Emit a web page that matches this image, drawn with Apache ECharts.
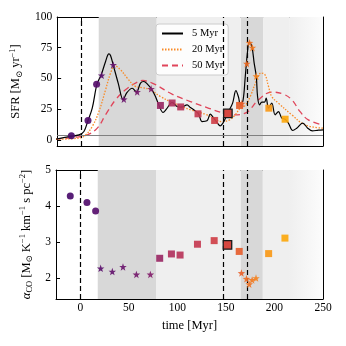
<!DOCTYPE html>
<html>
<head>
<meta charset="utf-8">
<script src="https://cdn.jsdelivr.net/npm/echarts@6/dist/echarts.min.js"></script>
<style>
  html, body { margin: 0; padding: 0; background: #fff; }
  #chart { width: 346px; height: 346px; }
</style>
</head>
<body>
<div id="chart"></div>
<script>
// SFR history (top) and alpha_CO per snapshot (bottom)

// --- data -----------------------------------------------------------------
const t5   = [-26, -12.7, -2.4, 2.7, 6.9, 11.3, 16.2, 20.6, 25.1, 28.5, 30.3, 33, 38.2, 43.3, 46.8, 52.6, 57.1, 61.2, 64.6, 68.1, 72.6, 76.7, 80.1, 84.6, 88, 93.9, 99, 103.5, 109.4, 112.8, 117.3, 121.4, 124.8, 130, 133.4, 136.2, 139.6, 143.7, 146.5, 150, 152.3, 156.5, 159.9, 162.7, 164.4, 167.2, 169.6, 171.6, 173.7, 176.4, 178.8, 181, 182.3, 184.3, 186.8, 189.5, 191.2, 193.6, 197, 200.5, 203.9, 207.4, 210.8, 214.2, 218.7, 222.8, 229, 234.2, 239, 245.2, 250];
const sfr5 = [0.6, 2.7, 4, 6.8, 15.7, 25.8, 45.4, 53, 63.8, 70, 68.5, 60.9, 46, 32.6, 38, 42, 38.9, 46.2, 47.5, 45.6, 41.3, 35.3, 28.5, 22.3, 25, 30.4, 27.2, 26.6, 28.5, 26.3, 23.9, 20.9, 14.9, 15.5, 20.9, 18.5, 14.9, 11.4, 13.6, 19, 23, 29.9, 40, 34.5, 29, 31.8, 51.6, 69.3, 79.6, 76, 62.5, 51.6, 35.3, 28.5, 30.7, 30.7, 34, 25.8, 29.9, 20.4, 23, 17.7, 16.8, 13.6, 7.6, 9.5, 13.6, 9.5, 7.3, 7.9, 8.2];

const t20   = [-26, -2.4, 4.5, 11.3, 18.2, 25.1, 30.3, 34.7, 40.6, 47.5, 56, 63, 71.5, 81.8, 95.6, 112.8, 130, 145.5, 153.4, 159.2, 164.4, 169.6, 174.7, 181.6, 186, 190, 193.6, 197, 203.9, 217.7, 231.4, 250];
const sfr20 = [0.5, 1.4, 4, 10.9, 23, 40.8, 54.4, 60.3, 57, 50.3, 43.5, 42.5, 40.8, 35.3, 29.9, 24.5, 20.4, 14.9, 16.3, 20.4, 25.8, 28, 35.3, 48.9, 54.4, 53, 43.5, 35.3, 29.9, 20.4, 12.2, 9.5];

const t50   = [-26.5, -5.8, 6.2, 16.5, 25.1, 35.4, 45.7, 56, 63.6, 75, 93.9, 112.8, 130, 147.2, 157.5, 169.6, 183.3, 197, 209, 217.7, 226.3, 234.8, 250];
const sfr50 = [0.6, 2.2, 4, 9.5, 20.4, 32.6, 40.8, 46.2, 48.3, 45.6, 37.2, 31.2, 26.3, 21.7, 20.4, 21.7, 32.6, 38.9, 37.2, 32.6, 23, 16.3, 12];

// snapshots, grouped by marker kind
const circleT   = [-10.3, 6.9, 15.8];
const circleSFR = [3.3, 15.8, 45.3];
const circleAco = [4.28, 4.10, 3.86];

const starT   = [21, 33, 44, 57.8, 72.2, 166, 171.2, 174, 177, 181];
const starSFR = [52.5, 61, 33, 39, 41.5, 29.5, 62, 79, 75, 51.8];
const starAco = [2.27, 2.18, 2.31, 2.10, 2.10, 2.14, 1.98, 1.83, 1.95, 2.0];

const squareT   = [81.8, 93.9, 102.8, 120.7, 137.9, 163.7, 194, 210.8];
const squareSFR = [28, 30, 26.8, 21.2, 15.8, 28, 25.8, 16.8];
const squareAco = [2.55, 2.67, 2.64, 2.94, 3.04, 2.74, 2.68, 3.11];

const refT   = [151.6];
const refSFR = [21.5];
const refAco = [2.92];

// phases and events
const darkBands  = [[18, 78], [165, 188]];
const lightBands = [[78, 165], [188, 215]];
const fadeBand   = [215, 250];
const eventTimes = [0, 147, 172];
const sfrFloor   = 4;

const xTicks   = [0, 50, 100, 150, 200, 250];
const sfrTicks = [0, 25, 50, 75, 100];
const acoTicks = [2, 3, 4, 5];

// --- chart ----------------------------------------------------------------
const FONT = "'Liberation Serif', 'DejaVu Serif', serif";
const zip = (a, b) => a.map((v, i) => [v, b[i]]);

const chart = echarts.init(document.getElementById('chart'));

function xAxis(grid, position, labels, name) {
  return {
    type: 'value', gridIndex: grid, position: position, min: -25, max: 250,
    splitLine: { show: false },
    axisLine: { show: true, onZero: false, lineStyle: { color: '#000', width: 1 } },
    axisTick: { show: true, inside: true, length: 4, customValues: xTicks, lineStyle: { color: '#000' } },
    axisLabel: { show: labels, customValues: xTicks, margin: 3, color: '#000', fontFamily: FONT, fontSize: 11.5 },
    name: name || '', nameLocation: 'middle', nameGap: 20,
    nameTextStyle: { color: '#000', fontFamily: FONT, fontSize: 12.5 },
  };
}

function yAxis(grid, position, labels, min, max, ticks, name, gap) {
  return {
    type: 'value', gridIndex: grid, position: position, min: min, max: max,
    splitLine: { show: false },
    axisLine: { show: true, onZero: false, lineStyle: { color: '#000', width: 1 } },
    axisTick: { show: true, inside: true, length: 4, customValues: ticks, lineStyle: { color: '#000' } },
    axisLabel: { show: labels, customValues: ticks, margin: 5, color: '#000', fontFamily: FONT, fontSize: 11.5 },
    name: name || '', nameLocation: 'middle', nameGap: gap || 0,
    nameTextStyle: {
      color: '#000', fontFamily: FONT, fontSize: 12.5, lineHeight: 16,
      rich: {
        sup: { fontFamily: FONT, fontSize: 8.5, verticalAlign: 'top', lineHeight: 16 },
        sub: { fontFamily: FONT, fontSize: 8.5, verticalAlign: 'bottom', lineHeight: 16 },
        it:  { fontFamily: FONT, fontSize: 12.5, fontStyle: 'italic', lineHeight: 16 },
      },
    },
  };
}

function bandAreas() {
  const out = [];
  darkBands.forEach(b => out.push([{ xAxis: b[0], itemStyle: { color: '#d8d8d8' } }, { xAxis: b[1] }]));
  lightBands.forEach(b => out.push([{ xAxis: b[0], itemStyle: { color: '#efefef' } }, { xAxis: b[1] }]));
  out.push([{ xAxis: fadeBand[0], itemStyle: { color: {
    type: 'linear', x: 0, y: 0, x2: 1, y2: 0,
    colorStops: [{ offset: 0, color: '#efefef' }, { offset: 1, color: '#fcfcfc' }],
  } } }, { xAxis: fadeBand[1] }]);
  return out;
}

function background(x, y, withFloor) {
  const lines = eventTimes.map(t => ({ xAxis: t, lineStyle: { color: '#000', width: 1.2, type: [5, 3] } }));
  if (withFloor) lines.push({ yAxis: sfrFloor, lineStyle: { color: '#808080', width: 1, type: 'solid' } });
  return [
    { type: 'line', xAxisIndex: x, yAxisIndex: y, data: [], z: 1, silent: true,
      markArea: { silent: true, data: bandAreas() } },
    { type: 'line', xAxisIndex: x, yAxisIndex: y, data: [], z: 2, silent: true,
      markLine: { silent: true, symbol: ['none', 'none'], label: { show: false }, data: lines } },
  ];
}

const STAR = 'path://M0,-10L2.35,-3.24L9.51,-3.09L3.8,1.24L5.88,8.09L0,4L-5.88,8.09L-3.8,1.24L-9.51,-3.09L-2.35,-3.24Z';

function markers(x, y, vals) {
  const base = { type: 'scatter', xAxisIndex: x, yAxisIndex: y, z: 6, itemStyle: { opacity: 0.92 } };
  return [
    Object.assign({}, base, { data: zip(circleT, vals.c), symbol: 'circle', symbolSize: 7 }),
    Object.assign({}, base, { data: zip(starT, vals.s), symbol: STAR, symbolSize: 7.5 }),
    Object.assign({}, base, { data: zip(squareT, vals.q), symbol: 'rect', symbolSize: 7 }),
    Object.assign({}, base, { data: zip(refT, vals.r), symbol: 'rect', symbolSize: 8.5,
      itemStyle: { borderColor: '#1a1a1a', borderWidth: 1.3, opacity: 1 } }),
  ];
}

const series = [].concat(
  background(0, 0, true),
  background(2, 2, false),
  [
    { name: '50 Myr', type: 'line', xAxisIndex: 0, yAxisIndex: 0, data: zip(t50, sfr50), smooth: 0.4,
      showSymbol: false, symbol: 'none', z: 3, lineStyle: { color: '#e0455a', width: 1.3, type: [6, 4] }, itemStyle: { color: '#e0455a' } },
    { name: '20 Myr', type: 'line', xAxisIndex: 0, yAxisIndex: 0, data: zip(t20, sfr20), smooth: 0.4,
      showSymbol: false, symbol: 'none', z: 4, lineStyle: { color: '#f98a26', width: 1.3, type: [1.5, 1.5] }, itemStyle: { color: '#f98a26' } },
    { name: '5 Myr', type: 'line', xAxisIndex: 0, yAxisIndex: 0, data: zip(t5, sfr5), smooth: 0.35,
      showSymbol: false, symbol: 'none', z: 5, lineStyle: { color: '#000', width: 1.2 }, itemStyle: { color: '#000' } },
  ],
  markers(0, 0, { c: circleSFR, s: starSFR, q: squareSFR, r: refSFR }),
  markers(2, 2, { c: circleAco, s: starAco, q: squareAco, r: refAco })
);

const scatterIdx = [];
series.forEach((s, i) => { if (s.type === 'scatter') scatterIdx.push(i); });

chart.setOption({
  animation: false,
  backgroundColor: '#fff',
  textStyle: { fontFamily: FONT },
  grid: [
    { left: 56, top: 17, width: 267, height: 129 },
    { left: 56, top: 170, width: 267, height: 129 },
  ],
  xAxis: [
    xAxis(0, 'bottom', false),
    xAxis(0, 'top', false),
    xAxis(1, 'bottom', true, 'time [Myr]'),
    xAxis(1, 'top', false),
  ],
  yAxis: [
    yAxis(0, 'left', true, -5, 100, sfrTicks, 'SFR [M{sub|⊙} yr{sup|−1}]', 28),
    yAxis(0, 'right', false, -5, 100, sfrTicks),
    yAxis(1, 'left', true, 1.42, 5, acoTicks, '{it|α}{sub|CO} [M{sub|⊙} K{sup|−1} km{sup|−1} s pc{sup|−2}]', 17),
    yAxis(1, 'right', false, 1.42, 5, acoTicks),
  ],
  visualMap: {
    type: 'continuous', show: false, dimension: 0, seriesIndex: scatterIdx,
    min: -10, max: 210,
    inRange: { color: ['#4a0c6b', '#530e6d', '#62136e', '#6f186e', '#7e1e6c', '#ad3060',
                       '#c03856', '#cb3e4c', '#d44442', '#ee6a25', '#f8951a', '#fca80e'] },
  },
  legend: {
    data: ['5 Myr', '20 Myr', '50 Myr'],
    orient: 'vertical', left: 156, top: 24,
    itemWidth: 21, itemHeight: 8, itemGap: 5,
    padding: [4, 5, 4, 5],
    itemStyle: { color: 'transparent', borderWidth: 0, opacity: 0 },
    backgroundColor: 'rgba(255,255,255,0.85)', borderColor: '#cccccc', borderWidth: 1, borderRadius: 3,
    textStyle: { color: '#000', fontFamily: FONT, fontSize: 10.5, padding: [0, 0, 0, 4] },
  },
  series: series,
});
</script>
</body>
</html>
